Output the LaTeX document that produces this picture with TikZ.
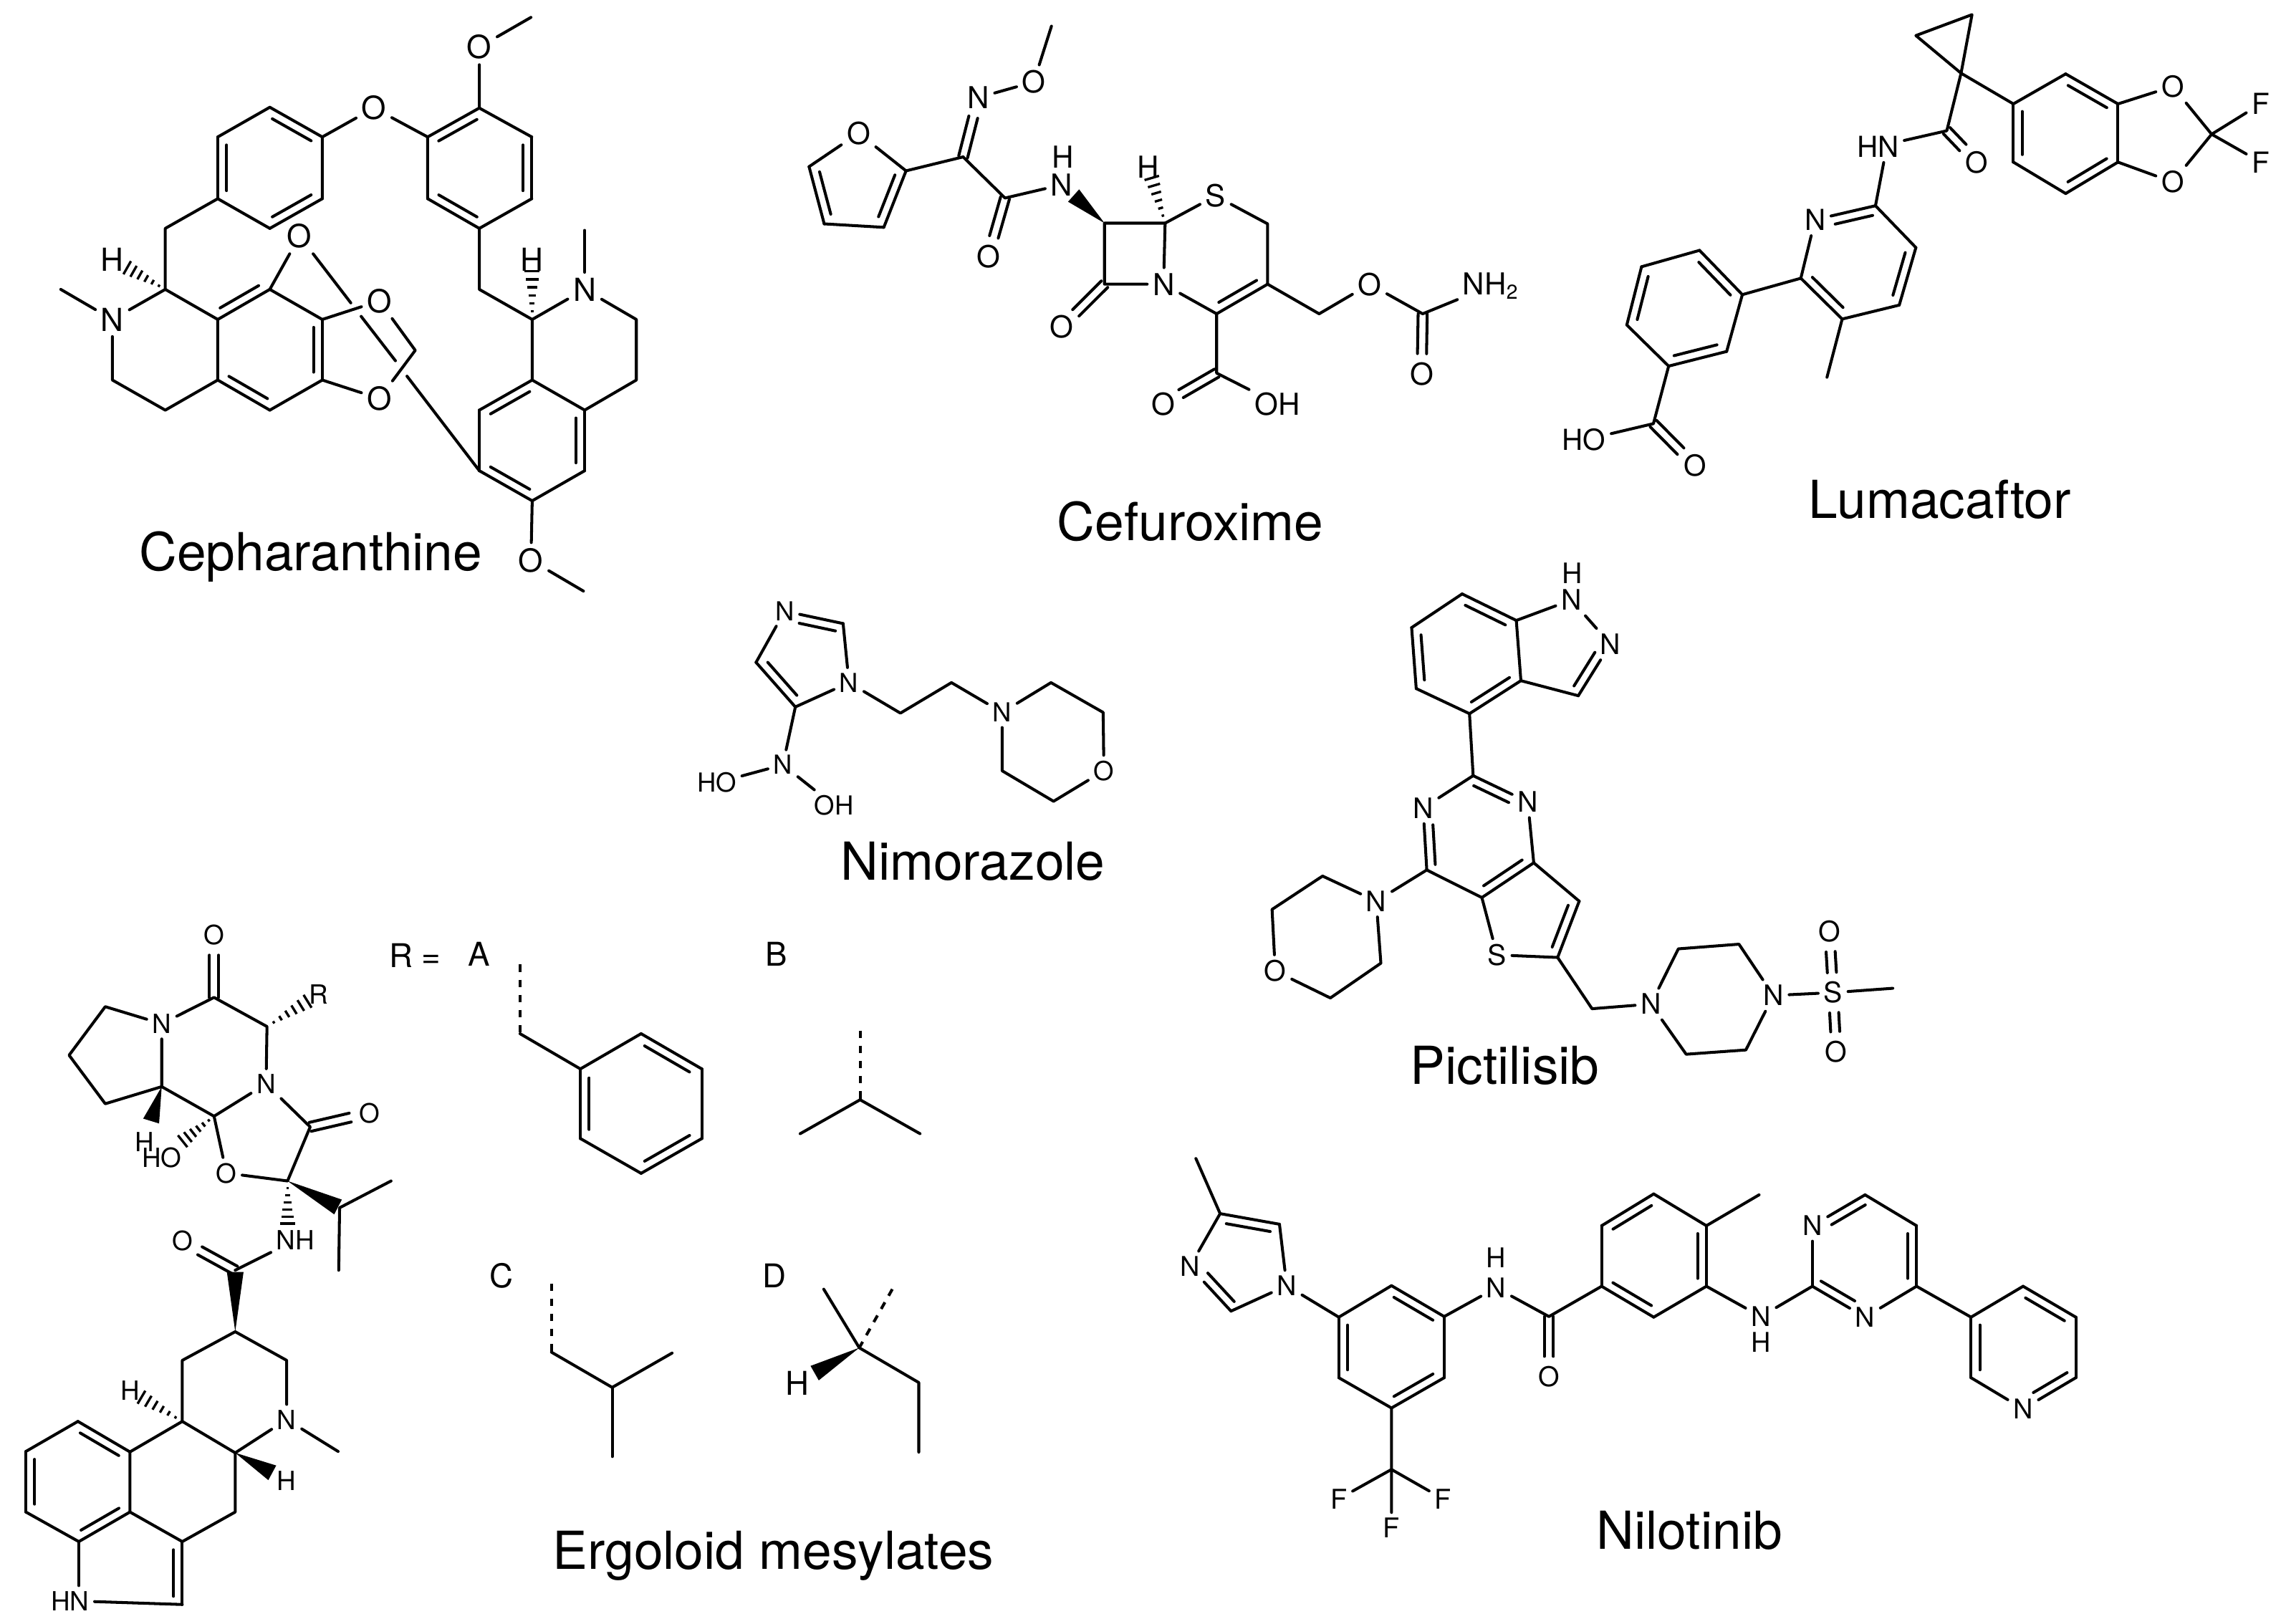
\documentclass[tikz,border=0pt]{standalone}
\usepackage{fontspec}
\setmainfont{TeX Gyre Heros}
\usetikzlibrary{calc}

\newcommand{\atomfs}{12}
\newcommand{\bondgap}{3.5pt}
\tikzset{
	bond/.style={line width=1.15pt, line cap=round, line join=round},
	hashline/.style={line width=0.95pt},
	dashbond/.style={line width=1.15pt, dashed},
	atom/.style={inner sep=2pt, font=\fontsize{\atomfs}{\atomfs}\selectfont},
	drugname/.style={inner sep=0pt, anchor=base, font=\fontsize{20.8}{24}\selectfont},
}

% Bond with a shorter inner line on its right, cut back by #3 and #4 at the two ends
\newcommand{\dbondat}[4]{
	\draw[bond] (#1) -- (#2);
	\draw[bond] ($(#1)!#3!(#2)!\bondgap!-90:(#2)$) -- ($(#2)!#4!(#1)!\bondgap!90:(#1)$);
}
\newcommand{\dbond}[2]{\dbondat{#1}{#2}{0.13}{0.13}}
% Two equal lines, for C=O and the like
\newcommand{\dblsym}[3][0pt]{
	\draw[bond, shorten <=#1, shorten >=8pt] ($(#2)!1.8pt!90:(#3)$) -- ($(#3)!1.8pt!-90:(#2)$);
	\draw[bond, shorten <=#1, shorten >=8pt] ($(#2)!1.8pt!-90:(#3)$) -- ($(#3)!1.8pt!90:(#2)$);
}
% Stereo bonds: narrow end at #2, drawn up to the fraction #1 of the way to #3
\newcommand{\hashbond}[3][0.97]{
	\foreach \k in {1,...,6}{
		\pgfmathsetmacro{\hfrac}{#1*\k/6}
		\pgfmathsetmacro{\hwid}{0.5*\k}
		\draw[hashline] ($(#2)!\hfrac!(#3)!\hwid pt!90:(#3)$) -- ($(#2)!\hfrac!(#3)!\hwid pt!-90:(#3)$);
	}
}
\newcommand{\wedgebond}[3][0.97]{
	\fill (#2) -- ($(#2)!#1!(#3)!3.3pt!90:(#3)$) -- ($(#2)!#1!(#3)!3.3pt!-90:(#3)$) -- cycle;
}

\begin{document}
\begin{tikzpicture}
	\useasboundingbox (0,0) rectangle (31.84,-22.66);

	% Cepharanthine
	\begin{scope}[shift={(0,0)}, x=0.00577cm, y=-0.00538cm]
		\renewcommand{\atomfs}{12.6}
		% Define nodes
		\node[drugname] (ceName) at (752,1478) {Cepharanthine};
		\coordinate (ceMe1) at (1285,45);
		\node[atom] (ceO1) at (1160,122) {O};
		\node[atom] (ceO2) at (905,280) {O};
		\coordinate (ceR1) at (1160,280); \coordinate (ceR2) at (1287,355); \coordinate (ceR3) at (1287,515);
		\coordinate (ceR4) at (1160,592); \coordinate (ceR5) at (1035,515); \coordinate (ceR6) at (1035,355);
		\coordinate (ceL1) at (653,278); \coordinate (ceL2) at (780,355); \coordinate (ceL3) at (780,515);
		\coordinate (ceL4) at (653,592); \coordinate (ceL5) at (527,515); \coordinate (ceL6) at (527,355);
		\coordinate (ceCa) at (400,592); \coordinate (ceCb) at (400,750);
		\node[atom] (ceH1) at (272,672) {H};
		\node[atom] (ceN1) at (272,828) {N};
		\coordinate (ceMe2) at (147,750); \coordinate (ceCc) at (272,985); \coordinate (ceCd) at (400,1063);
		\coordinate (ceA1) at (527,828); \coordinate (ceA2) at (653,750); \coordinate (ceA3) at (780,828);
		\coordinate (ceA4) at (780,985); \coordinate (ceA5) at (653,1063); \coordinate (ceA6) at (527,985);
		\node[atom] (ceO3) at (725,612) {O};
		\node[atom] (ceO4) at (918,780) {O};
		\node[atom] (ceO5) at (918,1033) {O};
		\coordinate (ceM) at (1005,908);
		\coordinate (ceX1) at (849,785); \coordinate (ceX2) at (874,820);
		\coordinate (ceX3) at (957,935); \coordinate (ceX4) at (985,975);
		\coordinate (ceCe) at (1160,750); \coordinate (ceCf) at (1288,828);
		\node[atom] (ceH2) at (1288,672) {H};
		\node[atom] (ceN2) at (1415,750) {N};
		\coordinate (ceMe3) at (1415,597); \coordinate (ceCg) at (1540,828); \coordinate (ceCh) at (1540,985);
		\coordinate (ceB1) at (1288,985); \coordinate (ceB2) at (1415,1063); \coordinate (ceB3) at (1415,1220);
		\coordinate (ceB4) at (1288,1298); \coordinate (ceB5) at (1160,1220); \coordinate (ceB6) at (1160,1063);
		\node[atom] (ceO6) at (1285,1452) {O};
		\coordinate (ceMe4) at (1412,1532);
		% Bonds
		\draw[bond] (ceMe1) -- (ceO1) -- (ceR1) -- (ceR2);
		\draw[bond] (ceR3) -- (ceR4);
		\draw[bond] (ceR5) -- (ceR6) -- (ceO2) -- (ceL2) -- (ceL3);
		\dbond{ceR6}{ceR1} \dbond{ceR2}{ceR3} \dbond{ceR4}{ceR5}
		\dbond{ceL1}{ceL2} \dbond{ceL3}{ceL4} \dbond{ceL5}{ceL6}
		\draw[bond] (ceL4) -- (ceL5) -- (ceCa) -- (ceCb) -- (ceN1) -- (ceCc) -- (ceCd) -- (ceA6);
		\draw[bond] (ceL6) -- (ceL1);
		\draw[bond] (ceMe2) -- (ceN1);
		\hashbond[0.72]{ceCb}{ceH1}
		\draw[bond] (ceCb) -- (ceA1) -- (ceA6);
		\dbond{ceA2}{ceA1}
		\draw[bond] (ceA2) -- (ceA3);
		\dbond{ceA3}{ceA4}
		\draw[bond] (ceA4) -- (ceA5);
		\dbond{ceA5}{ceA6}
		\draw[bond] (ceA2) -- (ceO3) -- (ceX1);
		\draw[bond] (ceX2) -- (ceX3);
		\draw[bond] (ceX4) -- (ceB5);
		\draw[bond] (ceA3) -- (ceO4) -- (ceM) -- (ceO5) -- (ceA4);
		\draw[bond] (ceR4) -- (ceCe) -- (ceCf) -- (ceN2) -- (ceCg) -- (ceCh) -- (ceB2);
		\draw[bond] (ceMe3) -- (ceN2);
		\hashbond[0.8]{ceCf}{ceH2}
		\draw[bond] (ceCf) -- (ceB1) -- (ceB2);
		\dbond{ceB6}{ceB1} \dbond{ceB2}{ceB3} \dbond{ceB4}{ceB5}
		\draw[bond] (ceB3) -- (ceB4) -- (ceO6) -- (ceMe4);
		\draw[bond] (ceB5) -- (ceB6);
	\end{scope}

	% Cefuroxime
	\begin{scope}[shift={(10.80,0)}, x=0.00705cm, y=-0.00487cm]
		\renewcommand{\atomfs}{12}
		% Define nodes
		\node[drugname] (cfName) at (825,1550) {Cefuroxime};
		\coordinate (cfMe) at (550,75);
		\node[atom] (cfO1) at (515,235) {O};
		\node[atom] (cfN1) at (405,280) {N};
		\coordinate (cfC1) at (375,450);
		\node[atom] (cfO2) at (168,382) {O};
		\coordinate (cfF1) at (262,490); \coordinate (cfF2) at (218,652);
		\coordinate (cfF3) at (100,642); \coordinate (cfF4) at (70,478);
		\coordinate (cfC2) at (458,568);
		\node[atom] (cfO3) at (425,735) {O};
		\node[atom] (cfN2) at (570,530) {N};
		\node[atom] (cfH1) at (572,450) {H};
		\coordinate (cfC3) at (655,640); \coordinate (cfC4) at (775,640); \coordinate (cfC6) at (655,815);
		\node[atom] (cfN3) at (772,815) {N};
		\node[atom] (cfO4) at (570,938) {O};
		\node[atom] (cfH2) at (742,478) {H};
		\node[atom] (cfS) at (875,562) {S};
		\coordinate (cfC7) at (978,642); \coordinate (cfC8) at (978,815); \coordinate (cfC9) at (877,900);
		\coordinate (cfC10) at (877,1070);
		\node[atom] (cfO5) at (772,1158) {O};
		\node[atom] (cfOH) at (997,1158) {OH};
		\coordinate (cfC11) at (1080,900);
		\node[atom] (cfO6) at (1180,815) {O};
		\coordinate (cfC12) at (1285,900);
		\node[atom] (cfNH) at (1420,820) {NH\textsubscript{2}};
		\node[atom] (cfO7) at (1283,1072) {O};
		% Bonds
		\draw[bond] (cfMe) -- (cfO1) -- (cfN1);
		\dblsym{cfC1}{cfN1}
		\draw[bond] (cfC1) -- (cfF1) -- (cfO2) -- (cfF4);
		\dbond{cfF1}{cfF2} \dbond{cfF3}{cfF4}
		\draw[bond] (cfF2) -- (cfF3);
		\draw[bond] (cfC1) -- (cfC2) -- (cfN2);
		\dblsym{cfC2}{cfO3}
		\wedgebond[0.72]{cfC3}{cfN2}
		\draw[bond] (cfC6) -- (cfC3) -- (cfC4) -- (cfN3) -- (cfC6);
		\dblsym{cfC6}{cfO4}
		\hashbond[0.8]{cfC4}{cfH2}
		\draw[bond] (cfC4) -- (cfS) -- (cfC7) -- (cfC8);
		\dbond{cfC8}{cfC9}
		\draw[bond] (cfC9) -- (cfN3);
		\draw[bond] (cfC9) -- (cfC10) -- (cfOH);
		\dblsym{cfC10}{cfO5}
		\draw[bond] (cfC8) -- (cfC11) -- (cfO6) -- (cfC12) -- (cfNH);
		\dblsym{cfC12}{cfO7}
	\end{scope}

	% Lumacaftor
	\begin{scope}[shift={(21.50,0)}, x=0.00663cm, y=-0.00487cm]
		\renewcommand{\atomfs}{11.5}
		% Define nodes
		\node[drugname] (luName) at (840,1487) {Lumacaftor};
		\coordinate (luC1) at (885,210); \coordinate (luC2) at (790,102); \coordinate (luC3) at (908,42);
		\coordinate (luB1) at (995,298); \coordinate (luB2) at (1105,212); \coordinate (luB3) at (1215,298);
		\coordinate (luB4) at (1215,465); \coordinate (luB5) at (1105,555); \coordinate (luB6) at (995,465);
		\node[atom] (luO1) at (1330,248) {O};
		\node[atom] (luO2) at (1330,522) {O};
		\coordinate (luCF) at (1412,385);
		\node[atom] (luF1) at (1515,298) {F};
		\node[atom] (luF2) at (1515,465) {F};
		\coordinate (luCO) at (855,375);
		\node[atom] (luO3) at (918,465) {O};
		\node[atom] (luHN) at (710,420) {HN};
		\node[atom] (luN) at (578,630) {N};
		\coordinate (luP1) at (705,590); \coordinate (luP2) at (790,710); \coordinate (luP3) at (755,875);
		\coordinate (luP4) at (635,915); \coordinate (luP5) at (548,798); \coordinate (luMe) at (603,1082);
		\coordinate (luA1) at (425,845); \coordinate (luA2) at (335,718); \coordinate (luA3) at (213,765);
		\coordinate (luA4) at (182,932); \coordinate (luA5) at (270,1050); \coordinate (luA6) at (392,1008);
		\coordinate (luC4) at (238,1215);
		\node[atom] (luHO) at (92,1262) {HO};
		\node[atom] (luO4) at (325,1335) {O};
		% Bonds
		\draw[bond] (luC1) -- (luC2) -- (luC3) -- (luC1) -- (luB1) -- (luB2);
		\dbond{luB2}{luB3} \dbond{luB4}{luB5} \dbond{luB6}{luB1}
		\draw[bond] (luB3) -- (luB4);
		\draw[bond] (luB5) -- (luB6);
		\draw[bond] (luB3) -- (luO1) -- (luCF) -- (luO2) -- (luB4);
		\draw[bond] (luF1) -- (luCF) -- (luF2);
		\draw[bond] (luC1) -- (luCO) -- (luHN);
		\dblsym{luCO}{luO3}
		\draw[bond] (luHN.-70) -- (luP1);
		\dbondat{luN}{luP1}{0.3}{0.08}
		\draw[bond] (luP1) -- (luP2);
		\dbond{luP2}{luP3}
		\draw[bond] (luP3) -- (luP4);
		\dbond{luP4}{luP5}
		\draw[bond] (luP5) -- (luN);
		\draw[bond] (luP4) -- (luMe);
		\draw[bond] (luP5) -- (luA1);
		\dbond{luA2}{luA1} \dbond{luA4}{luA3} \dbond{luA6}{luA5}
		\draw[bond] (luA2) -- (luA3);
		\draw[bond] (luA4) -- (luA5);
		\draw[bond] (luA6) -- (luA1);
		\draw[bond] (luA5) -- (luC4) -- (luHO);
		\dblsym{luC4}{luO4}
	\end{scope}

	% Nimorazole
	\begin{scope}[shift={(9.40,-7.60)}, x=0.00513cm, y=-0.00333cm]
		\renewcommand{\atomfs}{10.4}
		% Define nodes
		\node[drugname] (niName) at (815,1410) {Nimorazole};
		\node[atom] (niN1) at (303,280) {N};
		\coordinate (niC1) at (462,332);
		\node[atom] (niN2) at (478,580) {N};
		\coordinate (niC2) at (332,682); \coordinate (niC3) at (225,495);
		\coordinate (niC4) at (618,708); \coordinate (niC5) at (757,580);
		\node[atom] (niN3) at (895,705) {N};
		\coordinate (niM1) at (1028,580); \coordinate (niM2) at (1170,705);
		\node[atom] (niO) at (1172,950) {O};
		\coordinate (niM3) at (1035,1078); \coordinate (niM4) at (895,950);
		\node[atom] (niN4) at (298,925) {N};
		\node[atom] (niHO) at (118,1000) {HO};
		\node[atom] (niOH) at (437,1095) {OH};
		% Bonds
		\dbondat{niN1}{niC1}{0.28}{0.1}
		\draw[bond] (niC1) -- (niN2) -- (niC2);
		\dbond{niC2}{niC3}
		\draw[bond] (niC3) -- (niN1);
		\draw[bond] (niN2) -- (niC4) -- (niC5) -- (niN3) -- (niM1) -- (niM2) -- (niO) -- (niM3) -- (niM4) -- (niN3);
		\draw[bond] (niC2) -- (niN4) -- (niHO);
		\draw[bond] (niN4) -- (niOH);
	\end{scope}

	% Pictilisib
	\begin{scope}[shift={(17.00,-7.60)}, x=0.00641cm, y=-0.00500cm]
		\renewcommand{\atomfs}{11.2}
		% Define nodes
		\node[drugname] (piName) at (625,1505) {Pictilisib};
		\coordinate (piI1) at (532,138); \coordinate (piI2) at (650,212); \coordinate (piI3) at (660,380);
		\coordinate (piI4) at (548,472); \coordinate (piI5) at (432,402); \coordinate (piI6) at (422,232);
		\node[atom] (piN1) at (770,155) {N};
		\node[atom] (piH) at (772,80) {H};
		\node[atom] (piN2) at (855,278) {N};
		\coordinate (piC1) at (785,422);
		\coordinate (piP1) at (556,645);
		\node[atom] (piN3) at (675,718) {N};
		\coordinate (piP2) at (688,888); \coordinate (piP3) at (575,985); \coordinate (piP4) at (455,908);
		\node[atom] (piN4) at (447,735) {N};
		\coordinate (piT1) at (787,995); \coordinate (piT2) at (740,1152);
		\node[atom] (piS1) at (608,1145) {S};
		\coordinate (piC2) at (815,1295);
		\node[atom] (piN5) at (943,1282) {N};
		\coordinate (piQ1) at (1003,1128); \coordinate (piQ2) at (1135,1115);
		\node[atom] (piN6) at (1210,1258) {N};
		\coordinate (piQ3) at (1150,1410); \coordinate (piQ4) at (1020,1422);
		\node[atom] (piS2) at (1340,1250) {S};
		\node[atom] (piO1) at (1332,1080) {O};
		\node[atom] (piO2) at (1347,1415) {O};
		\coordinate (piMe) at (1470,1238);
		\node[atom] (piN7) at (345,995) {N};
		\coordinate (piM1) at (228,925); \coordinate (piM2) at (118,1018);
		\node[atom] (piO3) at (125,1190) {O};
		\coordinate (piM3) at (245,1265); \coordinate (piM4) at (355,1168);
		% Bonds
		\dbond{piI1}{piI2} \dbond{piI3}{piI4} \dbond{piI5}{piI6}
		\draw[bond] (piI2) -- (piI3);
		\draw[bond] (piI4) -- (piI5);
		\draw[bond] (piI6) -- (piI1);
		\draw[bond] (piI2) -- (piN1) -- (piN2);
		\dbondat{piN2}{piC1}{0.25}{0.1}
		\draw[bond] (piC1) -- (piI3);
		\draw[bond] (piI4) -- (piP1);
		\dbondat{piP1}{piN3}{0.08}{0.28}
		\draw[bond] (piN3) -- (piP2);
		\dbond{piP2}{piP3}
		\draw[bond] (piP3) -- (piP4);
		\dbondat{piP4}{piN4}{0.08}{0.28}
		\draw[bond] (piN4) -- (piP1);
		\draw[bond] (piP2) -- (piT1);
		\dbond{piT1}{piT2}
		\draw[bond] (piT2) -- (piS1) -- (piP3);
		\draw[bond] (piT2) -- (piC2) -- (piN5) -- (piQ1) -- (piQ2) -- (piN6) -- (piQ3) -- (piQ4) -- (piN5);
		\draw[bond] (piN6) -- (piS2) -- (piMe);
		\dblsym[8pt]{piS2}{piO1}
		\dblsym[8pt]{piS2}{piO2}
		\draw[bond] (piP4) -- (piN7) -- (piM1) -- (piM2) -- (piO3) -- (piM3) -- (piM4) -- (piN7);
	\end{scope}

	% Ergoloid mesylates, main skeleton
	\begin{scope}[shift={(0,-12.60)}, x=0.00410cm, y=-0.00645cm]
		\renewcommand{\atomfs}{10.5}
		% Define nodes
		\node[atom] (erO1) at (728,70) {O};
		\coordinate (erC1) at (728,205);
		\node[atom] (erN1) at (550,262) {N};
		\coordinate (erC2) at (358,225); \coordinate (erC3) at (235,330); \coordinate (erC4) at (358,435);
		\coordinate (erC5) at (550,398); \coordinate (erC6) at (908,268);
		\node[atom] (erR) at (1085,198) {R};
		\node[atom] (erN2) at (905,392) {N};
		\coordinate (erC7) at (728,462); \coordinate (erC8) at (1055,485);
		\node[atom] (erO2) at (1258,455) {O};
		\coordinate (erC9) at (978,602);
		\node[atom] (erO3) at (770,585) {O};
		\node[atom] (erH1) at (492,518) {H};
		\node[atom] (erHO) at (550,552) {HO};
		\node[atom] (erNH) at (1005,730) {NH};
		\coordinate (erHashNH) at (erC9 |- erNH.north);
		\coordinate (erC10) at (1155,660); \coordinate (erMe1) at (1330,602); \coordinate (erMe2) at (1152,795);
		\coordinate (erC11) at (800,795);
		\node[atom] (erO4) at (620,732) {O};
		\coordinate (erC12) at (800,928); \coordinate (erC13) at (620,990); \coordinate (erC14) at (620,1122);
		\coordinate (erC15) at (800,1190); \coordinate (erC16) at (975,990);
		\node[atom] (erN3) at (975,1118) {N};
		\coordinate (erMe3) at (1150,1187);
		\node[atom] (erH2) at (975,1250) {H};
		\node[atom] (erH3) at (442,1055) {H};
		\coordinate (erC17) at (800,1318); \coordinate (erC18) at (620,1382); \coordinate (erC19) at (620,1518);
		\coordinate (erA1) at (442,1188); \coordinate (erA2) at (265,1122); \coordinate (erA3) at (88,1187);
		\coordinate (erA4) at (88,1318); \coordinate (erA5) at (268,1382); \coordinate (erA6) at (442,1318);
		\node[atom] (erHN) at (238,1510) {HN};
		\coordinate (erHNtop) at (erA5 |- erHN.north);
		% Bonds
		\dblsym{erC1}{erO1}
		\draw[bond] (erN1) -- (erC2) -- (erC3) -- (erC4) -- (erC5) -- (erN1) -- (erC1) -- (erC6) -- (erN2) -- (erC7) -- (erC5);
		\hashbond[0.78]{erC6}{erR}
		\draw[bond] (erN2) -- (erC8) -- (erC9) -- (erO3) -- (erC7);
		\dblsym{erC8}{erO2}
		\wedgebond[0.62]{erC5}{erH1}
		\hashbond[0.6]{erC7}{erHO}
		\hashbond{erC9}{erHashNH}
		\wedgebond{erC9}{erC10}
		\draw[bond] (erMe1) -- (erC10) -- (erMe2);
		\draw[bond] (erNH) -- (erC11);
		\dblsym{erC11}{erO4}
		\wedgebond{erC12}{erC11}
		\draw[bond] (erC12) -- (erC13) -- (erC14) -- (erC15) -- (erN3) -- (erC16) -- (erC12);
		\draw[bond] (erN3) -- (erMe3);
		\wedgebond[0.72]{erC15}{erH2}
		\hashbond[0.78]{erC14}{erH3}
		\draw[bond] (erC14) -- (erA1) -- (erA6) -- (erC18) -- (erC17) -- (erC15);
		\dbond{erA2}{erA1} \dbond{erA4}{erA3} \dbond{erA6}{erA5}
		\draw[bond] (erA2) -- (erA3);
		\draw[bond] (erA4) -- (erA5);
		\dbond{erC18}{erC19}
		\draw[bond] (erC19) -- (erHN);
		\draw[bond] (erA5) -- (erHNtop);
	\end{scope}

	% Ergoloid mesylates, the groups R
	\begin{scope}[shift={(5.20,-12.80)}, x=0.00577cm, y=-0.00615cm]
		\renewcommand{\atomfs}{13}
		% Define nodes
		\node[drugname] (erName) at (970,1480) {Ergoloid mesylates};
		\node[atom] (rEq) at (103,88) {R =};
		\node[atom] (rA) at (257,85) {A};
		\node[atom] (rB) at (978,85) {B};
		\node[atom] (rC) at (312,815) {C};
		\node[atom] (rD) at (973,815) {D};
		\coordinate (raS) at (357,108); \coordinate (raC) at (357,265);
		\coordinate (raP1) at (503,345); \coordinate (raP2) at (650,265); \coordinate (raP3) at (797,345);
		\coordinate (raP4) at (797,503); \coordinate (raP5) at (650,582); \coordinate (raP6) at (503,503);
		\coordinate (rbS) at (1180,258); \coordinate (rbC) at (1180,415);
		\coordinate (rbMe1) at (1035,492); \coordinate (rbMe2) at (1325,492);
		\coordinate (rcS) at (433,832); \coordinate (rcC1) at (433,988); \coordinate (rcC2) at (580,1068);
		\coordinate (rcMe1) at (725,990); \coordinate (rcMe2) at (580,1225);
		\coordinate (rdMe) at (1092,845); \coordinate (rdS) at (1258,845); \coordinate (rdC1) at (1178,978);
		\coordinate (rdC2) at (1322,1057); \coordinate (rdMe2) at (1322,1215);
		\node[atom] (rdH) at (1028,1058) {H};
		% Bonds
		\draw[dashbond] (raS) -- (raC);
		\draw[bond] (raC) -- (raP1);
		\dbond{raP2}{raP3} \dbond{raP4}{raP5} \dbond{raP6}{raP1}
		\draw[bond] (raP1) -- (raP2);
		\draw[bond] (raP3) -- (raP4);
		\draw[bond] (raP5) -- (raP6);
		\draw[dashbond] (rbS) -- (rbC);
		\draw[bond] (rbMe1) -- (rbC) -- (rbMe2);
		\draw[dashbond] (rcS) -- (rcC1);
		\draw[bond] (rcC1) -- (rcC2) -- (rcMe1);
		\draw[bond] (rcC2) -- (rcMe2);
		\draw[bond] (rdMe) -- (rdC1) -- (rdC2) -- (rdMe2);
		\draw[dashbond] (rdS) -- (rdC1);
		\wedgebond[0.72]{rdC1}{rdH}
	\end{scope}

	% Nilotinib
	\begin{scope}[shift={(16.00,-15.80)}, x=0.00846cm, y=-0.00423cm]
		\renewcommand{\atomfs}{10.8}
		% Define nodes
		\node[drugname] (nlName) at (897,1378) {Nilotinib};
		\coordinate (nlMe1) at (82,88); \coordinate (nlC1) at (122,270); \coordinate (nlC2) at (220,305);
		\node[atom] (nlN1) at (232,508) {N};
		\coordinate (nlC3) at (140,592);
		\node[atom] (nlN2) at (72,445) {N};
		\coordinate (nlA1) at (405,508); \coordinate (nlA2) at (492,610); \coordinate (nlA3) at (492,812);
		\coordinate (nlA4) at (405,912); \coordinate (nlA5) at (318,812); \coordinate (nlA6) at (318,612);
		\coordinate (nlCF) at (405,1115);
		\node[atom] (nlF1) at (318,1212) {F};
		\node[atom] (nlF2) at (490,1212) {F};
		\node[atom] (nlF3) at (405,1308) {F};
		\node[atom] (nlN3) at (578,515) {N};
		\node[atom] (nlH1) at (578,415) {H};
		\coordinate (nlCO) at (665,610);
		\node[atom] (nlO) at (665,808) {O};
		\coordinate (nlB1) at (838,205); \coordinate (nlB2) at (925,310); \coordinate (nlB3) at (925,510);
		\coordinate (nlB4) at (838,612); \coordinate (nlB5) at (752,510); \coordinate (nlB6) at (752,310);
		\coordinate (nlMe2) at (1012,208);
		\node[atom] (nlN4) at (1015,610) {N};
		\node[atom] (nlH2) at (1015,695) {H};
		\coordinate (nlD1) at (1187,208); \coordinate (nlD2) at (1272,310); \coordinate (nlD3) at (1272,510);
		\node[atom] (nlN5) at (1187,612) {N};
		\coordinate (nlD4) at (1100,510);
		\node[atom] (nlN6) at (1100,310) {N};
		\coordinate (nlE1) at (1448,510); \coordinate (nlE2) at (1535,612); \coordinate (nlE3) at (1535,812);
		\node[atom] (nlN7) at (1448,915) {N};
		\coordinate (nlE4) at (1362,812); \coordinate (nlE5) at (1362,612);
		% Bonds
		\draw[bond] (nlMe1) -- (nlC1);
		\dbond{nlC1}{nlC2}
		\draw[bond] (nlC2) -- (nlN1) -- (nlC3);
		\dbondat{nlC3}{nlN2}{0.08}{0.28}
		\draw[bond] (nlN2) -- (nlC1);
		\draw[bond] (nlN1) -- (nlA6);
		\dbond{nlA1}{nlA2} \dbond{nlA3}{nlA4} \dbond{nlA5}{nlA6}
		\draw[bond] (nlA2) -- (nlA3);
		\draw[bond] (nlA4) -- (nlA5);
		\draw[bond] (nlA6) -- (nlA1);
		\draw[bond] (nlA4) -- (nlCF) -- (nlF1);
		\draw[bond] (nlF2) -- (nlCF) -- (nlF3);
		\draw[bond] (nlA2) -- (nlN3) -- (nlCO) -- (nlB5);
		\dblsym{nlCO}{nlO}
		\dbond{nlB2}{nlB3} \dbond{nlB4}{nlB5} \dbond{nlB6}{nlB1}
		\draw[bond] (nlB1) -- (nlB2);
		\draw[bond] (nlB3) -- (nlB4);
		\draw[bond] (nlB5) -- (nlB6);
		\draw[bond] (nlB2) -- (nlMe2);
		\draw[bond] (nlB3) -- (nlN4) -- (nlD4);
		\dbondat{nlN6}{nlD1}{0.28}{0.08}
		\draw[bond] (nlD1) -- (nlD2);
		\dbond{nlD2}{nlD3}
		\draw[bond] (nlD3) -- (nlN5);
		\dbondat{nlN5}{nlD4}{0.28}{0.08}
		\draw[bond] (nlD4) -- (nlN6);
		\draw[bond] (nlD3) -- (nlE5);
		\dbond{nlE1}{nlE2}
		\dbondat{nlE3}{nlN7}{0.08}{0.28}
		\dbond{nlE4}{nlE5}
		\draw[bond] (nlE2) -- (nlE3);
		\draw[bond] (nlN7) -- (nlE4);
		\draw[bond] (nlE5) -- (nlE1);
	\end{scope}
\end{tikzpicture}
\end{document}
